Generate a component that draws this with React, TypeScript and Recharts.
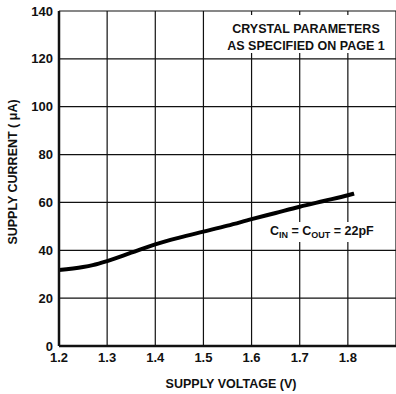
import React from 'react';
import { LineChart, Line, XAxis, YAxis, CartesianGrid, Customized } from 'recharts';

// supply voltage (V) vs supply current (uA)
const voltage = [1.2, 1.25, 1.27, 1.3, 1.35, 1.4, 1.45, 1.5, 1.55, 1.6, 1.65, 1.7, 1.75, 1.8, 1.813];
const current = [31.8, 33, 33.8, 35.5, 39, 42.5, 45.3, 47.8, 50.3, 53, 55.6, 58.2, 60.6, 63, 63.7];
const xTicks = [1.2, 1.3, 1.4, 1.5, 1.6, 1.7, 1.8, 1.9];
const yTicks = [0, 20, 40, 60, 80, 100, 120, 140];

const data = voltage.map((v, i) => ({ v, i: current[i] }));

const FONT = '"Liberation Sans", Arial, Helvetica, sans-serif';

const Notes = () => (
  <g fontFamily={FONT} fill="#111" fontWeight="bold">
    <rect x={226} y={15} width={164} height={38} fill="#fff" />
    <rect x={265} y={222} width={118} height={20} fill="#fff" />
    <text x={306} y={33} fontSize={12.5} textAnchor="middle">CRYSTAL PARAMETERS</text>
    <text x={306} y={50} fontSize={12.5} textAnchor="middle">AS SPECIFIED ON PAGE 1</text>
    <text x={270} y={235} fontSize={12.5}>
      C<tspan fontSize={9} dy={3}>IN</tspan>
      <tspan dy={-3}> = C</tspan>
      <tspan fontSize={9} dy={3}>OUT</tspan>
      <tspan dy={-3}> = 22pF</tspan>
    </text>
    <text x={231} y={388} fontSize={12.5} textAnchor="middle">SUPPLY VOLTAGE (V)</text>
    <text
      x={17}
      y={172}
      fontSize={12.5}
      textAnchor="middle"
      transform="rotate(-90 17 172)"
    >
      SUPPLY CURRENT ( μA)
    </text>
  </g>
);

const App = () => {
  return (
    <div style={{ position: 'absolute', left: 0, top: 0, background: '#fff' }}>
      <LineChart width={396} height={394} data={data} margin={{ top: 11, right: 0, bottom: 0, left: 0 }}>
        <CartesianGrid stroke="#111" strokeWidth={1.2} />
        <XAxis
          dataKey="v"
          type="number"
          domain={[1.2, 1.9]}
          ticks={xTicks}
          tickFormatter={(t: number) => (t >= 1.85 ? '' : t.toFixed(1))}
          axisLine={{ stroke: '#111', strokeWidth: 2.5 }}
          tickLine={false}
          tickSize={0}
          tickMargin={7}
          height={48}
          tick={{ fill: '#111', fontSize: 13, fontWeight: 'bold', fontFamily: FONT }}
          interval={0}
        />
        <YAxis
          dataKey="i"
          type="number"
          domain={[0, 140]}
          ticks={yTicks}
          width={59}
          axisLine={{ stroke: '#111', strokeWidth: 2.5 }}
          tickLine={false}
          tickSize={0}
          tickMargin={6}
          interval={0}
          tick={{ fill: '#111', fontSize: 13, fontWeight: 'bold', fontFamily: FONT }}
        />
        <Line
          type="monotone"
          dataKey="i"
          stroke="#000"
          strokeWidth={4}
          dot={false}
          isAnimationActive={false}
        />
        <Customized component={Notes} />
      </LineChart>
    </div>
  );
};

export default App;
